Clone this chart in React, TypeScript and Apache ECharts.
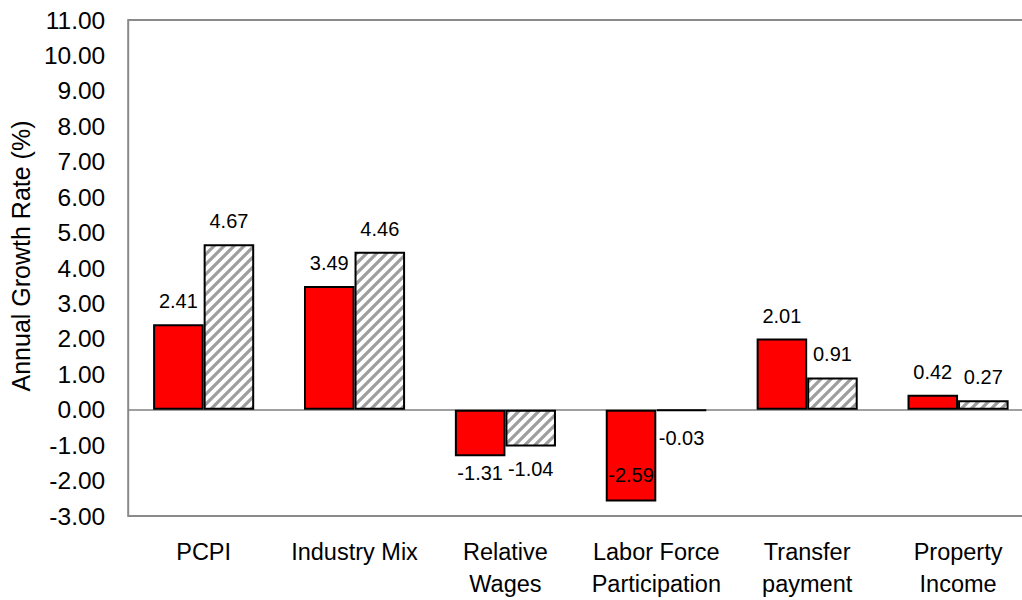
import React, { useEffect, useRef } from "react";
import * as echarts from "echarts";

const categories = [
  "PCPI",
  "Industry Mix",
  "Relative\nWages",
  "Labor Force\nParticipation",
  "Transfer\npayment",
  "Property\nIncome",
];
const seriesRed = [2.41, 3.49, -1.31, -2.59, 2.01, 0.42];
const seriesHatched = [4.67, 4.46, -1.04, -0.03, 0.91, 0.27];
const yMin = -3;
const yMax = 11;
const yInterval = 1;

const FONT = "'Liberation Sans', Arial, sans-serif";
const CHART_W = 1050;
const CHART_H = 600;

function makeHatch(): HTMLCanvasElement {
  const s = 10;
  const c = document.createElement("canvas");
  c.width = s;
  c.height = s;
  const ctx = c.getContext("2d")!;
  ctx.fillStyle = "#ffffff";
  ctx.fillRect(0, 0, s, s);
  ctx.strokeStyle = "#9e9e9e";
  ctx.lineWidth = 3.2;
  ctx.lineCap = "square";
  const seg = (x1: number, y1: number, x2: number, y2: number) => {
    ctx.beginPath();
    ctx.moveTo(x1, y1);
    ctx.lineTo(x2, y2);
    ctx.stroke();
  };
  seg(0, s, s, 0);
  seg(-3, 3, 3, -3);
  seg(s - 3, s + 3, s + 3, s - 3);
  return c;
}

// label tweaks (placement only)
const redLabelOverrides: Record<number, any> = {
  3: { position: "insideBottom", distance: 16 },
};
const hatchedLabelOverrides: Record<number, any> = {
  2: { distance: 12 },
  3: { distance: 17 },
};

function buildData(values: number[], overrides: Record<number, any>) {
  return values.map((v, i) => {
    const base = { position: v >= 0 ? "top" : "bottom", distance: v >= 0 ? 13 : 7 };
    return { value: v, label: { ...base, ...(overrides[i] || {}) } };
  });
}

export default function App() {
  const ref = useRef<HTMLDivElement>(null);
  useEffect(() => {
    if (!ref.current) return;
    const chart = echarts.init(ref.current, null, { renderer: "svg" });
    const hatch = makeHatch();
    const labelCommon = {
      show: true,
      color: "#000",
      fontSize: 20,
      fontFamily: FONT,
      formatter: (p: any) => Number(p.value).toFixed(2),
    };
    chart.setOption({
      animation: false,
      backgroundColor: "#ffffff",
      grid: {
        left: 125.5,
        width: 908,
        top: 20,
        height: 502.5,
        show: true,
        borderColor: "#8a8a8a",
        borderWidth: 2,
        backgroundColor: "transparent",
      },
      xAxis: {
        type: "category",
        data: categories,
        axisLine: { show: false },
        axisTick: { show: false },
        splitLine: { show: false },
        axisLabel: {
          color: "#000",
          fontSize: 23.5,
          fontFamily: FONT,
          lineHeight: 32,
          margin: 20,
          interval: 0,
        },
      },
      yAxis: {
        type: "value",
        min: yMin,
        max: yMax,
        interval: yInterval,
        axisLine: { show: false },
        axisTick: { show: false },
        splitLine: { show: false },
        axisLabel: {
          color: "#000",
          fontSize: 24.5,
          fontFamily: FONT,
          margin: 23,
          formatter: (v: number) => v.toFixed(2),
        },
        name: "Annual Growth Rate (%)",
        nameLocation: "middle",
        nameGap: 90,
        nameRotate: 90,
        nameTextStyle: {
          color: "#000",
          fontSize: 25,
          fontFamily: FONT,
          padding: [0, 0, 0, 24],
        },
      },
      series: [
        {
          type: "bar",
          data: buildData(seriesRed, redLabelOverrides),
          barGap: "0%",
          barCategoryGap: "33%",
          itemStyle: { color: "#ff0000", borderColor: "#000", borderWidth: 2 },
          label: labelCommon,
          markLine: {
            silent: true,
            symbol: "none",
            label: { show: false },
            lineStyle: { color: "#808080", width: 1.5, type: "solid" },
            data: [{ yAxis: 0 }],
            z: 1,
          },
        },
        {
          type: "bar",
          data: buildData(seriesHatched, hatchedLabelOverrides),
          barGap: "0%",
          barCategoryGap: "33%",
          itemStyle: {
            color: { image: hatch, repeat: "repeat" },
            borderColor: "#000",
            borderWidth: 2,
          },
          label: labelCommon,
        },
      ],
    });
    return () => chart.dispose();
  }, []);
  return (
    <div
      style={{
        position: "absolute",
        left: 0,
        top: 0,
        width: 1022,
        height: 600,
        overflow: "hidden",
      }}
    >
      <div ref={ref} style={{ width: CHART_W, height: CHART_H }} />
    </div>
  );
}
